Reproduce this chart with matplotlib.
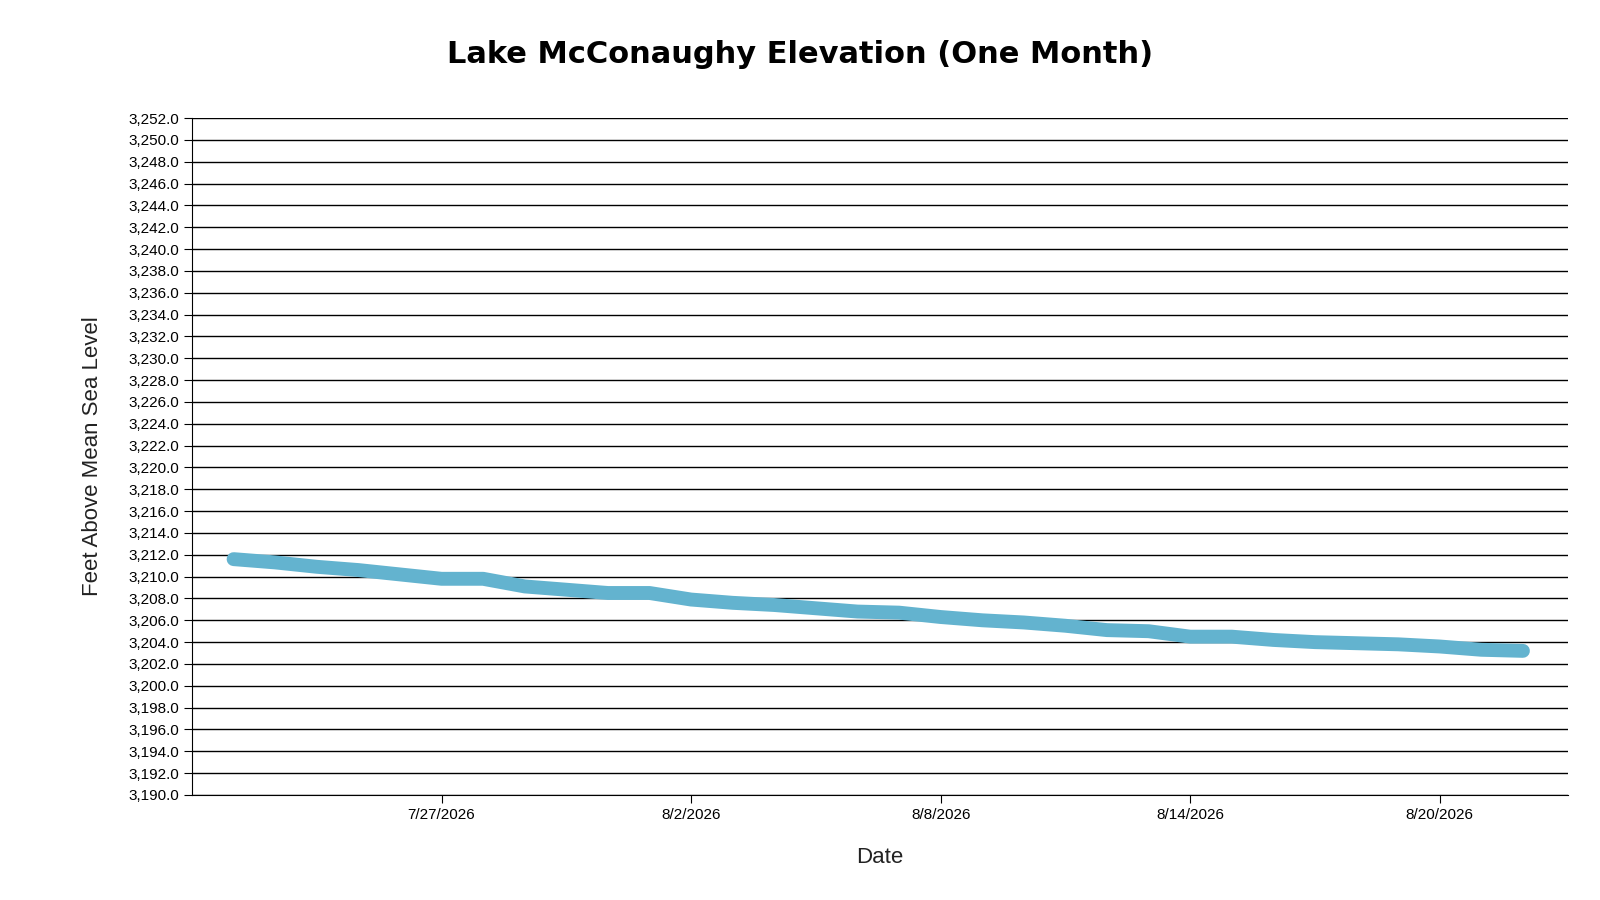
import matplotlib
matplotlib.use("agg")
import matplotlib.pyplot as plt
import numpy as np
import pandas as pd

dates = pd.date_range("2026-07-22", "2026-08-22", freq="D")
elev = [3211.6, 3211.3, 3210.9, 3210.6, 3210.2, 3209.8, 3209.8, 3209.1, 3208.8,
        3208.5, 3208.5, 3207.9, 3207.6, 3207.4, 3207.1, 3206.8, 3206.7, 3206.3,
        3206.0, 3205.8, 3205.5, 3205.1, 3205.0, 3204.5, 3204.5, 3204.2, 3204.0,
        3203.9, 3203.8, 3203.6, 3203.3, 3203.2]
ticks = pd.to_datetime(["2026-07-27", "2026-08-02", "2026-08-08", "2026-08-14", "2026-08-20"])
tick_labels = ["7/27/2026", "8/2/2026", "8/8/2026", "8/14/2026", "8/20/2026"]

plt.rcParams['font.family'] = ['Liberation Sans', 'DejaVu Sans']
fig = plt.figure(figsize=(16, 9), dpi=100)
ax = fig.add_axes([192/1600, (900-795)/900, (1568-192)/1600, (795-118)/900])

ax.plot(dates, elev, color="#63b3cf", lw=10, solid_capstyle="round", zorder=3)
ax.set_ylim(3190, 3252)
ax.set_yticks(np.arange(3190, 3253, 2))
ax.yaxis.set_major_formatter(matplotlib.ticker.FuncFormatter(lambda v, p: f"{v:,.1f}"))
ax.grid(axis="y", color="black", lw=1)
ax.set_xlim(pd.Timestamp("2026-07-21"), pd.Timestamp("2026-08-23 02:00"))
ax.set_xticks(ticks)
ax.set_xticklabels(tick_labels)
ax.tick_params(labelsize=11, length=6, color="black")
for s in ["top", "right"]:
    ax.spines[s].set_visible(False)
ax.set_ylabel("Feet Above Mean Sea Level", fontsize=16, labelpad=18, color="#222222")
ax.set_xlabel("Date", fontsize=16, labelpad=18, color="#222222")
fig.text(0.5, 0.93, "Lake McConaughy Elevation (One Month)", ha="center",
         fontsize=22, fontweight="bold", family=["DejaVu Sans"])
fig.savefig("out.png")
